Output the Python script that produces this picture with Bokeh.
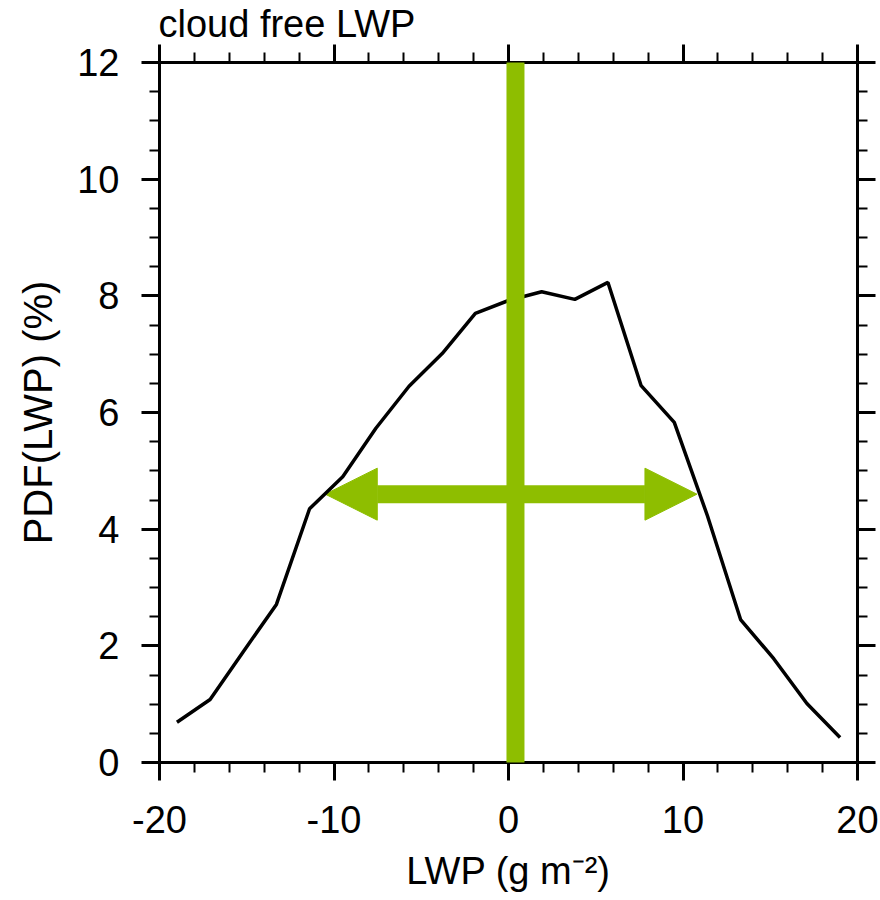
from bokeh.plotting import figure
from bokeh.models import (Range1d, LinearAxis, FixedTicker, Arrow, NormalHead,
                          CustomJSTickFormatter)
from bokeh.embed import file_html
from bokeh.resources import INLINE

# ---- data ----
lwp_bins = [-19.0, -17.1, -15.2, -13.3, -11.4, -9.5, -7.6, -5.7, -3.8, -1.9, 0.0,
            1.9, 3.8, 5.7, 7.6, 9.5, 11.4, 13.3, 15.2, 17.1, 19.0]
pdf_values = [0.69, 1.08, 1.90, 2.71, 4.35, 4.90, 5.73, 6.45, 7.01, 7.70, 7.92,
              8.07, 7.94, 8.23, 6.46, 5.83, 4.23, 2.45, 1.78, 1.01, 0.43]

mean_x = 0.4
mean_y_range = [-0.1, 12.1]
spread_x_range = [-10.5, 10.8]
spread_y = 4.6

x_ticks = [-20, -10, 0, 10, 20]
x_tick_labels = ["-20", "-10", "0", "10", "20"]
x_minor = [-18, -16, -14, -12, -8, -6, -4, -2, 2, 4, 6, 8, 12, 14, 16, 18]
y_ticks = [0, 2, 4, 6, 8, 10, 12]
y_minor = [0.5, 1, 1.5, 2.5, 3, 3.5, 4.5, 5, 5.5, 6.5, 7, 7.5, 8.5, 9, 9.5,
           10.5, 11, 11.5]

title_text = "cloud free LWP"
ylabel_text = "PDF(LWP) (%)"
xlabel_text = "LWP (g m\u207b\u00b2)"

GREEN = "#8EBE00"
FONT = "Liberation Sans"
FS = "38px"

p = figure(width=880, height=900, x_range=Range1d(-20, 20), y_range=Range1d(0, 12),
           toolbar_location=None, output_backend="svg",
           min_border_left=159, min_border_right=23, min_border_top=62,
           min_border_bottom=138)
p.outline_line_color = None
p.xgrid.visible = False
p.ygrid.visible = False

p.title.text = title_text
p.title.align = "left"
p.title.text_font = FONT
p.title.text_font_size = FS
p.title.text_font_style = "normal"
p.title.text_color = "black"
p.title.standoff = 0
p.title.offset = -1


def style_axis(ax, ticks, minor, labels=True):
    ax.ticker = FixedTicker(ticks=ticks, minor_ticks=minor)
    ax.axis_line_width = 3
    ax.axis_line_color = "black"
    ax.major_tick_line_width = 3
    ax.minor_tick_line_width = 2
    ax.major_tick_out = 18
    ax.major_tick_in = 0
    ax.minor_tick_out = 10
    ax.minor_tick_in = 0
    ax.major_label_text_font = FONT
    ax.major_label_text_color = "black"
    if labels:
        ax.major_label_text_font_size = FS
    else:
        ax.formatter = CustomJSTickFormatter(code="return ''")
        ax.major_label_text_font_size = "0px"
        ax.major_label_standoff = 0


xb = p.xaxis[0]
style_axis(xb, x_ticks, x_minor)
xb.major_label_overrides = {t: s for t, s in zip(x_ticks, x_tick_labels)}
xb.major_label_standoff = 25
xb.axis_label = xlabel_text
xb.axis_label_text_font = FONT
xb.axis_label_text_font_size = FS
xb.axis_label_text_font_style = "normal"
xb.axis_label_text_color = "black"
xb.axis_label_standoff = 14

yl = p.yaxis[0]
style_axis(yl, y_ticks, y_minor)
yl.major_label_standoff = 22
yl.axis_label = ylabel_text
yl.axis_label_text_font = FONT
yl.axis_label_text_font_size = "40px"
yl.axis_label_text_font_style = "normal"
yl.axis_label_text_color = "black"
yl.axis_label_standoff = 14

xt = LinearAxis()
style_axis(xt, x_ticks, x_minor, labels=False)
p.add_layout(xt, "above")
yr = LinearAxis()
style_axis(yr, y_ticks, y_minor, labels=False)
p.add_layout(yr, "right")

# horizontal spread arrow (below curve)
head_kw = dict(size=52, fill_color=GREEN, line_color=GREEN, line_width=1)
arr = Arrow(start=NormalHead(**head_kw), end=NormalHead(**head_kw),
            x_start=spread_x_range[0], y_start=spread_y,
            x_end=spread_x_range[1], y_end=spread_y,
            line_color=GREEN, line_width=18, level="underlay")
p.add_layout(arr)

# PDF curve
p.line(lwp_bins, pdf_values, line_color="black", line_width=3.5)

# vertical mean bar (on top of everything)
bar = Arrow(start=None, end=None, x_start=mean_x, y_start=mean_y_range[0],
            x_end=mean_x, y_end=mean_y_range[1],
            line_color=GREEN, line_width=18, level="overlay")
p.add_layout(bar)

open("out.html", "w").write(file_html(p, INLINE))
